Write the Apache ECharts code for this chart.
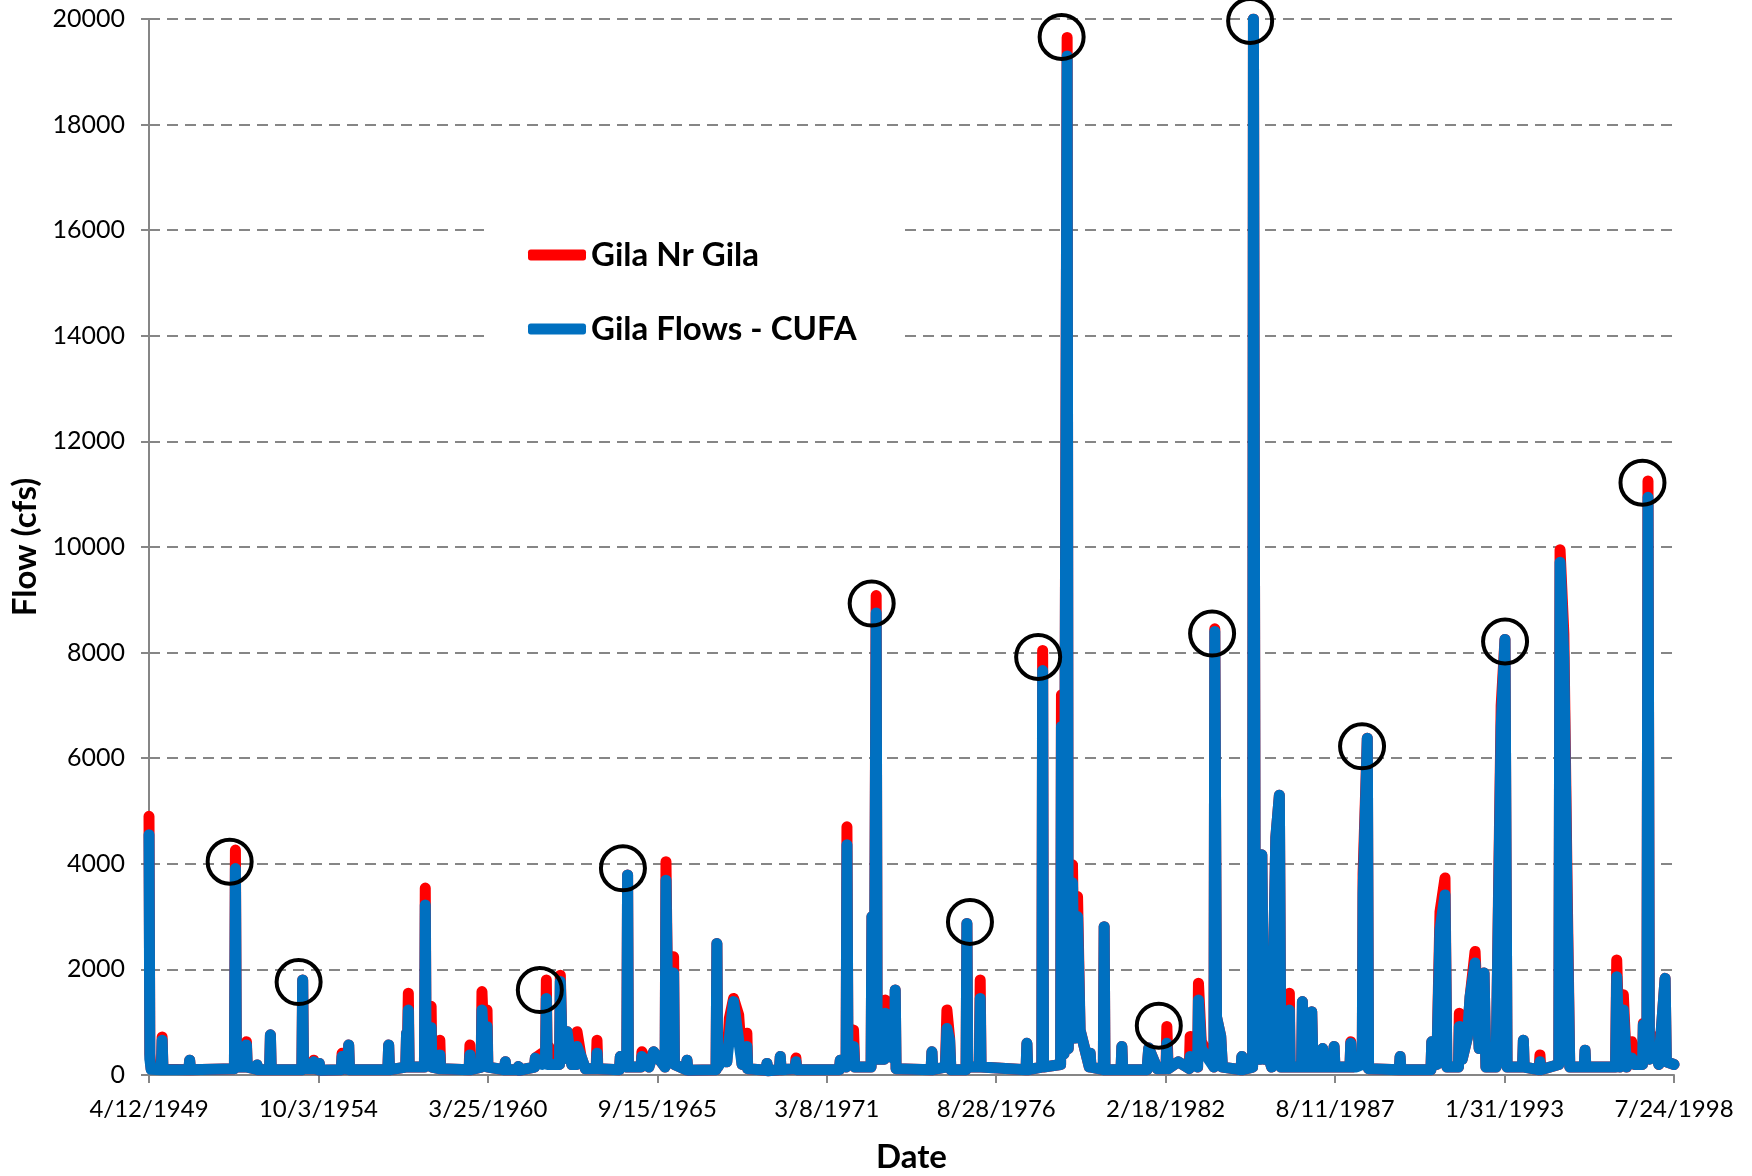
<!DOCTYPE html>
<html>
<head>
<meta charset="utf-8">
<title>Gila flows</title>
<script src="https://cdn.jsdelivr.net/npm/echarts@6/dist/echarts.min.js"></script>
<style>
  body { margin: 0; background: #fff; }
  #chart1 { width: 1752px; height: 1176px; }
</style>
</head>
<body>
<div id="chart1"></div>
<script>
// days counted from 4/12/1949
const startDate = Date.UTC(1949, 3, 12)
const dayTicks = [0, 2000, 4000, 6000, 8000, 10000, 12000, 14000, 16000, 18000]
const flowTicks = [0, 2000, 4000, 6000, 8000, 10000, 12000, 14000, 16000, 18000, 20000]

const days = [
  0,10,25, 145,155,165, 470,480,490, 1008,1020,1032, 1140,1150,1160, 1265,1275,1285, 1423,1433,1443, 1520,1530,
  1804,1814,1824, 1934,1944,1954, 2000,2010,2020, 2269,2279,2289, 2347,2357,2367, 2819,2829,2839,
  3030,3040,3050,3061,3071, 3251,3261,3271,3320,3330,3340, 3423,3433,3443, 3778,3788,3798,
  3920,3930,3960,3990,4000, 4196,4206,4216, 4350,4360,4370,
  4550,4560,4640,4680,4690,4700,4720,4760,
  4845,4855,4880,4934,4990,5042,5052,5100,5150,
  5278,5288,5298, 5553,5563, 5639,5649,5659, 5808,5818,5900,5956,
  6092,6102,6130,6192,6202, 6340,6350,6360,
  6693,6703,6713,6780,6820,6850,6900,6960,7000,7057,7067,
  7284,7294,7304, 7441,7451,7461, 7626,7636,7646, 8149,8159,
  8228,8238,8250,8316,8330,
  8523,8533,8560,8583,8595,8680,8690,8720,8798,8808,8818,
  9231,9241,9251, 9400,9418,9450,9465, 9644,9654,9664, 9800,9811,9821,
  10352,10362,10372, 10538,10548,10558,
  10760,10770,10800,10837,10850,10900,10930,10960,10990,
  11099,11109,11119, 11264,11274,11284, 11473,11483,11493, 11780,11800,11900,
  12004,12014,12030, 12150,12279,12289,12377,12387,12420,
  12570,12580,12600,12650,12670, 12889,12899,12909,
  13026,13036,13060,13125,13135,13160,13180,13250,
  13300,13342,13360,13450,13460,13470,13604,13614,13624,13714,13724,13740,
  13844,13854,13864, 13978,13988,13998, 14175,14185,14200,14250,
  14320,14330,14380,14395, 14757,14767,14777,
  15131,15141,15200,15238,15297,15320,
  15456,15466,15500,15560,15593,15652,15700,15758,15780,
  15900,15960,16005,16030, 16212,16222,16232, 16408,16418,16428,
  16640,16655,16700,16740,16770, 16940,16950,16960,
  17310,17324,17360,17402,17440,17501,17540,
  17628,17638,17680,17693,17710,17780,17820, 17895,17910,18000
]

// Gila Nr Gila (cfs)
const gilaNrGila = [
  4900,400,120, 110,720,110, 100,280,100, 120,4260,150, 150,630,150, 110,190,100, 100,760,100, 100,130,
  100,1800,120, 120,280,120, 100,220,90, 100,410,120, 110,570,100, 100,570,100,
  150,790,500,1550,150, 150,3540,400,200,1300,150, 120,660,120, 100,570,100,
  150,1580,300,1230,150, 100,250,100, 100,160,90,
  150,320,410,300,1800,300,530,200,
  200,1890,300,820,200,200,820,350,120,
  120,660,120, 100,350, 150,3790,150, 150,440,150,440,
  150,4040,300,2240,200, 100,280,90,
  100,2490,150,540,250,1070,1450,1140,200,790,120,
  90,220,80, 100,350,100, 120,320,100, 100,280,
  150,4700,300,850,150,
  150,3000,500,9080,300,300,1420,400,300,1610,120,
  100,440,100, 150,1230,700,100, 100,2870,150, 150,1800,150,
  100,600,100, 150,8040,150,
  200,7200,400,19650,500,3980,700,3380,850,
  150,410,150, 100,2810,100, 100,540,100, 100,510,120,
  120,920,120, 250,120,730,150,1740,640,
  150,8450,1100,730,150, 100,350,100,
  150,20000,300,300,4170,300,540,150,
  4500,5300,150,150,1550,150,150,1390,150,150,1200,150,
  150,500,150, 150,540,150, 150,630,150,350,
  200,3820,6380,120, 100,350,100,
  100,630,200,3090,3730,150,
  150,1170,300,700,1480,2340,500,1930,150,
  150,7000,8250,150, 150,660,150, 100,380,100,
  200,9950,8350,3430,150, 150,470,150,
  150,2180,150,1520,150,630,200,
  200,980,400,11250,300,720,200, 1830,250,200
]

// Gila Flows - CUFA (cfs)
const gilaCufa = [
  4550,300,110, 100,660,100, 100,280,100, 120,3910,150, 150,570,150, 110,190,100, 100,760,100, 100,130,
  100,1800,120, 120,250,120, 100,220,90, 100,350,120, 110,570,100, 100,570,100,
  150,790,400,1230,150, 150,3220,400,200,900,150, 120,380,120, 100,380,100,
  150,1230,300,915,150, 100,250,100, 100,160,90,
  150,320,200,300,1450,200,200,200,
  200,1770,300,820,200,200,540,350,120,
  120,410,120, 100,350, 150,3790,150, 150,350,150,440,
  150,3690,300,1930,200, 100,280,90,
  100,2490,150,300,250,700,1390,660,200,540,120,
  90,220,80, 100,350,100, 120,250,100, 100,280,
  150,4360,300,540,150,
  150,3000,500,8750,300,300,1170,400,300,1610,120,
  100,440,100, 150,880,660,100, 100,2870,150, 150,1450,150,
  100,600,100, 150,7660,150,
  200,6600,400,19300,500,3640,700,3000,850,
  150,410,150, 100,2810,100, 100,540,100, 100,510,120,
  120,600,120, 250,120,350,150,1420,500,
  150,8400,1100,730,150, 100,350,100,
  150,20000,300,300,4170,300,540,150,
  4500,5300,150,150,1230,150,150,1390,150,150,1200,150,
  150,500,150, 150,540,150, 150,600,150,150,
  200,3440,6380,120, 100,350,100,
  100,630,200,2750,3410,150,
  150,920,300,700,1480,2120,500,1930,150,
  150,6600,8250,150, 150,660,150, 100,250,100,
  200,9710,7900,3000,150, 150,470,150,
  150,1860,150,1230,150,320,200,
  200,950,400,10940,300,400,200, 1830,250,200
]

// circled peaks
const circleDays = [952, 1766, 4613, 5594, 8530, 9690, 10495, 10772, 11919, 12548, 12997, 14318, 16006, 17628]
const circleFlows = [4040, 1760, 1610, 3914, 8930, 2900, 7917, 19660, 934, 8362, 19963, 6224, 8212, 11218]

const font = 'Lato'

function dayLabel(v) {
  const d = new Date(startDate + v * 86400000)
  return (d.getUTCMonth() + 1) + '/' + d.getUTCDate() + '/' + d.getUTCFullYear()
}

let chart = echarts.init(document.getElementById('chart1'))
chart.setOption({
  animation: false,
  backgroundColor: '#fff',
  //fixed plot box, do not shrink for axis names
  grid: { left: 149, right: 78, top: 19, bottom: 101, containLabel: false, outerBoundsMode: 'none' },
  legend: {
    data: ['Gila Nr Gila', 'Gila Flows - CUFA'],
    orient: 'vertical',
    left: 488,
    top: 213,
    padding: [24, 47, 24, 40],
    backgroundColor: '#fff',
    icon: 'roundRect',
    itemWidth: 58,
    itemHeight: 11,
    itemGap: 38,
    selectedMode: false,
    textStyle: { fontFamily: font, fontSize: 33, fontWeight: 'bold', color: '#000', lineHeight: 36 }
  },
  xAxis: {
    type: 'value',
    min: dayTicks[0],
    max: dayTicks[dayTicks.length - 1],
    interval: dayTicks[1] - dayTicks[0],
    name: 'Date',
    nameLocation: 'middle',
    nameGap: 66,
    nameTextStyle: { fontFamily: font, fontSize: 33, fontWeight: 'bold', color: '#000' },
    axisLine: { lineStyle: { color: '#868686', width: 2 } },
    axisTick: { show: true, length: 8, lineStyle: { color: '#868686', width: 2 } },
    axisLabel: { formatter: dayLabel, fontFamily: font, fontSize: 24, color: '#000', margin: 22 },
    splitLine: { show: false }
  },
  yAxis: {
    type: 'value',
    min: flowTicks[0],
    max: flowTicks[flowTicks.length - 1],
    interval: flowTicks[1] - flowTicks[0],
    name: 'Flow (cfs)',
    nameLocation: 'middle',
    nameGap: 99,
    nameTextStyle: { fontFamily: font, fontSize: 33, fontWeight: 'bold', color: '#000' },
    axisLine: { show: true, lineStyle: { color: '#868686', width: 2 } },
    axisTick: { show: true, length: 8, lineStyle: { color: '#868686', width: 2 } },
    axisLabel: { formatter: v => String(v), fontFamily: font, fontSize: 25, color: '#000', margin: 24 },
    splitLine: { show: true, lineStyle: { color: '#868686', width: 2, type: [11, 7] } }
  },
  series: [
    {
      name: 'Gila Nr Gila',
      type: 'line',
      showSymbol: false,
      color: '#ff0000',
      lineStyle: { width: 11, color: '#ff0000', cap: 'round', join: 'round' },
      data: days.map((d, i) => [d, gilaNrGila[i]]),
      z: 2
    },
    {
      name: 'Gila Flows - CUFA',
      type: 'line',
      showSymbol: false,
      color: '#0070c0',
      lineStyle: { width: 11, color: '#0070c0', cap: 'round', join: 'round' },
      data: days.map((d, i) => [d, gilaCufa[i]]),
      z: 3
    },
    {
      name: 'circles',
      type: 'scatter',
      symbol: 'circle',
      symbolSize: 44,
      silent: true,
      itemStyle: { color: 'rgba(0,0,0,0)', borderColor: '#000', borderWidth: 4, opacity: 1 },
      data: circleDays.map((d, i) => [d, circleFlows[i]]),
      z: 5
    }
  ]
})
</script>
</body>
</html>
